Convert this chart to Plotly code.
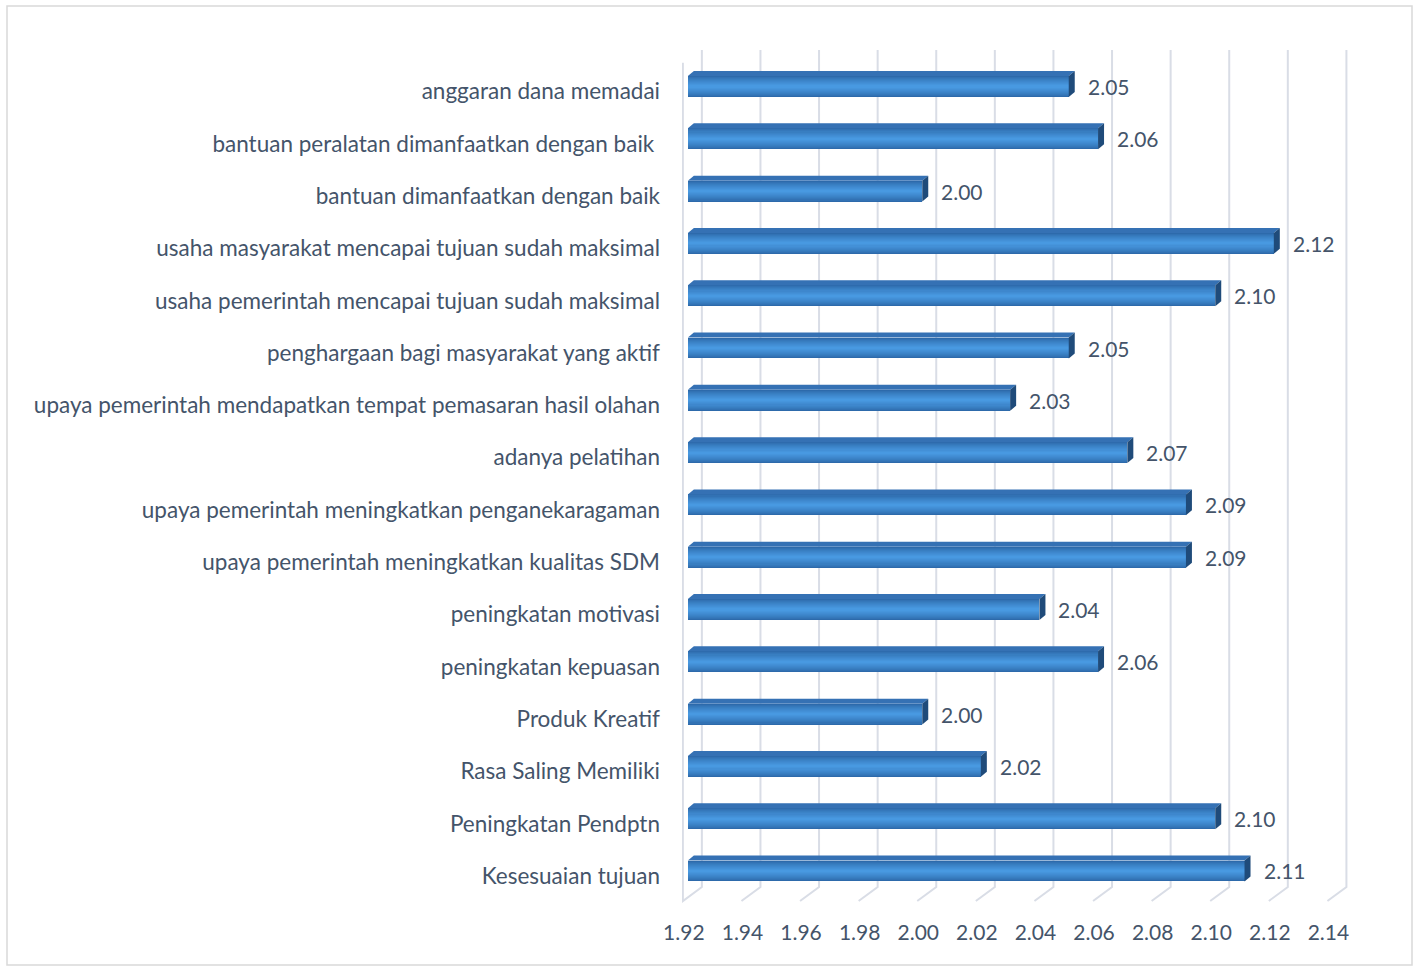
import plotly.graph_objects as go

# Survey indicators (top to bottom) and their mean scores
categories = [
    "anggaran dana memadai",
    "bantuan peralatan dimanfaatkan dengan baik\u00a0",
    "bantuan dimanfaatkan dengan baik",
    "usaha masyarakat mencapai tujuan sudah maksimal",
    "usaha pemerintah mencapai tujuan sudah maksimal",
    "penghargaan bagi masyarakat yang aktif",
    "upaya pemerintah mendapatkan tempat pemasaran hasil olahan",
    "adanya pelatihan",
    "upaya pemerintah meningkatkan penganekaragaman",
    "upaya pemerintah meningkatkan kualitas SDM",
    "peningkatan motivasi",
    "peningkatan kepuasan",
    "Produk Kreatif",
    "Rasa Saling Memiliki",
    "Peningkatan Pendptn",
    "Kesesuaian tujuan",
]
scores = [2.05, 2.06, 2.00, 2.12, 2.10, 2.05, 2.03, 2.07,
          2.09, 2.09, 2.04, 2.06, 2.00, 2.02, 2.10, 2.11]
tick_values = [1.92, 1.94, 1.96, 1.98, 2.00, 2.02, 2.04, 2.06,
               2.08, 2.10, 2.12, 2.14]
axis_base = 1.92

W, H = 1418, 966
M_L, M_R, M_T, M_B = 682, 68, 50, 65
X_RANGE = [1.918, 2.146]
Y_RANGE = [15.574, -0.698]

TEXT = "#44546a"
GRID = "#d9dde6"
FONT = "Lato"
CAT_SIZE = 22.5
NUM_SIZE = 21

plot_w = W - M_L - M_R
plot_h = H - M_T - M_B

# pseudo-3D depth of the bars
depth_px = 6
rise_px = 5
bar_w = 0.40
half_px = bar_w * plot_h / (Y_RANGE[0] - Y_RANGE[1]) / 2
depth_data = depth_px * (X_RANGE[1] - X_RANGE[0]) / plot_w
floor_rise = 14 / plot_h


def mix(c0, c1, f):
    a = [int(c0[k:k + 2], 16) for k in (1, 3, 5)]
    b = [int(c1[k:k + 2], 16) for k in (1, 3, 5)]
    return "#" + "".join(f"{round(x + (y - x) * f):02x}" for x, y in zip(a, b))


fig = go.Figure()

# front face: nested layers for a soft vertical gradient
n_layers = 10
for k in range(n_layers):
    f = k / (n_layers - 1)
    w = bar_w * (1 - f) + 0.04 * f
    col = mix("#2d6aab", "#4899e1", f ** 0.8)
    fig.add_trace(go.Bar(
        y=list(range(len(categories))),
        x=[s - axis_base for s in scores],
        base=axis_base,
        orientation="h",
        width=w,
        marker=dict(color=col, line=dict(width=0)),
        hoverinfo="skip",
        showlegend=False,
    ))

shapes = []
# floor lines and back-wall gridlines
for i, t in enumerate(tick_values):
    if i == 0:
        path = f"M -5,0.985 L -5,0 L 14,{floor_rise} L 14,1"
    else:
        path = f"M -5,0 L 14,{floor_rise} L 14,1"
    shapes.append(dict(
        type="path", xref="x", yref="paper", xsizemode="pixel", xanchor=t,
        path=path, line=dict(color=GRID, width=2), layer="below",
    ))

for i, s in enumerate(scores):
    # top face
    shapes.append(dict(
        type="path", xref="x", yref="y", ysizemode="pixel", yanchor=i,
        path=(f"M {axis_base},{half_px} L {s},{half_px} "
              f"L {s + depth_data},{half_px + rise_px} "
              f"L {axis_base + depth_data},{half_px + rise_px} Z"),
        fillcolor="#3571b4", line=dict(width=0), layer="above",
    ))
    # side face
    shapes.append(dict(
        type="path", xref="x", yref="y", xsizemode="pixel", xanchor=s,
        ysizemode="pixel", yanchor=i,
        path=(f"M 0,{half_px} L {depth_px},{half_px + rise_px} "
              f"L {depth_px},{-half_px + rise_px} L 0,{-half_px} Z"),
        fillcolor="#1f4b7a", line=dict(width=0), layer="above",
    ))


# outer chart border
def px_to_paper_x(px):
    return (px - M_L) / plot_w


def py_to_paper_y(py):
    return (H - M_B - py) / plot_h


shapes.append(dict(
    type="rect", xref="paper", yref="paper",
    x0=px_to_paper_x(7), x1=px_to_paper_x(1412),
    y0=py_to_paper_y(965), y1=py_to_paper_y(6),
    line=dict(color="#d9d9d9", width=1.5), fillcolor="rgba(0,0,0,0)", layer="below",
))

annotations = [
    dict(x=s, y=i, xref="x", yref="y", text=f"{s:.2f}", showarrow=False,
         xanchor="left", yanchor="middle", xshift=17,
         font=dict(family=FONT, size=NUM_SIZE, color=TEXT))
    for i, s in enumerate(scores)
]

fig.update_layout(
    width=W, height=H,
    margin=dict(l=M_L, r=M_R, t=M_T, b=M_B),
    paper_bgcolor="white", plot_bgcolor="white",
    barmode="overlay",
    bargap=0,
    shapes=shapes,
    annotations=annotations,
    font=dict(family=FONT, size=NUM_SIZE, color=TEXT),
    xaxis=dict(
        range=X_RANGE, showgrid=False, zeroline=False, showline=False,
        tickmode="array", tickvals=tick_values,
        ticktext=[f"{t:.2f}" for t in tick_values],
        ticks="", ticklabelshift=-4, ticklabelstandoff=17,
        tickfont=dict(family=FONT, size=NUM_SIZE, color=TEXT),
    ),
    yaxis=dict(
        range=Y_RANGE, showgrid=False, zeroline=False, showline=False,
        tickmode="array", tickvals=list(range(len(categories))),
        ticktext=categories, ticks="", ticklabelstandoff=21,
        ticklabelshift=-5,
        tickfont=dict(family=FONT, size=CAT_SIZE, color=TEXT),
    ),
)

fig.write_html("out.html")
